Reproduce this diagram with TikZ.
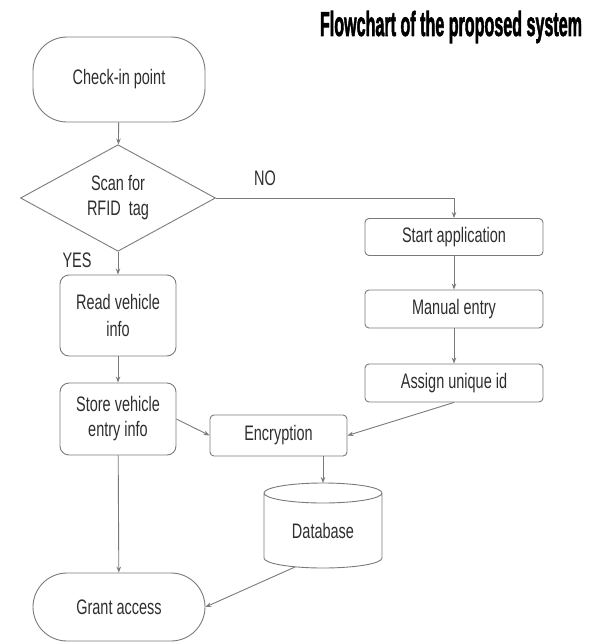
\documentclass[tikz,border=0pt]{standalone}
\usepackage{fontspec}
\setmainfont{Liberation Sans}
\newfontfamily\titlefont[FakeBold=2.5]{Liberation Sans Bold}
\usetikzlibrary{shapes.geometric,arrows.meta}
\definecolor{ln}{HTML}{7A7A7A}
\definecolor{tx}{HTML}{2E2E2E}
\newcommand{\cnd}[1]{\scalebox{0.69}[1]{#1}}
\tikzset{
  base/.style={draw=ln, line width=0.9pt, text=tx, inner sep=0pt, align=center,
     font=\fontsize{21}{27}\selectfont},
  term/.style={base, rounded corners=34pt},
  proc/.style={base, rounded corners=4pt},
  soft/.style={base, rounded corners=9pt},
  dec/.style={base, diamond},
  arr/.style={draw=ln, line width=0.9pt, -{Stealth[length=6pt,width=4.5pt]}},
  lbl/.style={text=tx, inner sep=0pt, font=\fontsize{21}{25}\selectfont},
}
\begin{document}
\begin{tikzpicture}[x=1pt,y=-1pt]
\useasboundingbox (0,0) rectangle (596,643);
\node[inner sep=0pt, text=black] (title) at (451,27)
  {\resizebox{262pt}{25pt}{\titlefont Flowchart of the proposed system}};
\node[term, minimum width=172pt, minimum height=85pt] (check) at (119,79.5) {\cnd{Check-in point}};
\node[dec, minimum width=195pt, minimum height=95pt] (scan) at (118,198) {\cnd{Scan for}\\[-2pt]\cnd{RFID\ \ tag}};
\node[soft, minimum width=116pt, minimum height=81pt] (read) at (118,315.5) {\cnd{Read vehicle}\\\cnd{info}};
\node[soft, minimum width=116pt, minimum height=72pt] (store) at (118,419) {\cnd{Store vehicle}\\[-2pt]\cnd{entry info}};
\node[proc, minimum width=178pt, minimum height=37pt] (start) at (454,237) {\cnd{Start application}};
\node[proc, minimum width=178pt, minimum height=38pt] (manual) at (454,309) {\cnd{Manual entry}};
\node[proc, minimum width=178pt, minimum height=38pt] (assign) at (454,383) {\cnd{Assign unique id}};
\node[proc, minimum width=137pt, minimum height=41pt] (enc) at (278.5,435.5) {\cnd{Encryption}};
% database cylinder
\coordinate (dbtop) at (323,483);
\coordinate (dbbot) at (295,567);
\draw[draw=ln, line width=0.9pt] (264,493) arc[start angle=180, end angle=360, x radius=59, y radius=10]
  (382,493) arc[start angle=0, end angle=180, x radius=59, y radius=10]
  (264,493) -- (264,558) arc[start angle=180, end angle=0, x radius=59, y radius=10] -- (382,493);
\node[lbl, text=tx] (db) at (323,531) {\cnd{Database}};
\node[term, minimum width=172pt, minimum height=68pt] (grant) at (119,607) {\cnd{Grant access}};
% labels
\node[lbl] (no) at (265,178) {\cnd{NO}};
\node[lbl] (yes) at (77,260) {\cnd{YES}};
% connectors
\draw[arr] (check) -- (scan);
\draw[arr] (scan) -- (read);
\draw[arr] (read) -- (store);
\draw[arr] (scan.east) -| (start.north);
\draw[arr] (start) -- (manual);
\draw[arr] (manual) -- (assign);
\draw[arr] (store.east) -- (enc.west);
\draw[arr] (assign.south) -- (enc.east);
\draw[arr] (enc.south -| dbtop) -- (dbtop);
\draw[arr] (store) -- (grant);
\draw[arr] (dbbot) -- (grant.east);
\end{tikzpicture}
\end{document}
